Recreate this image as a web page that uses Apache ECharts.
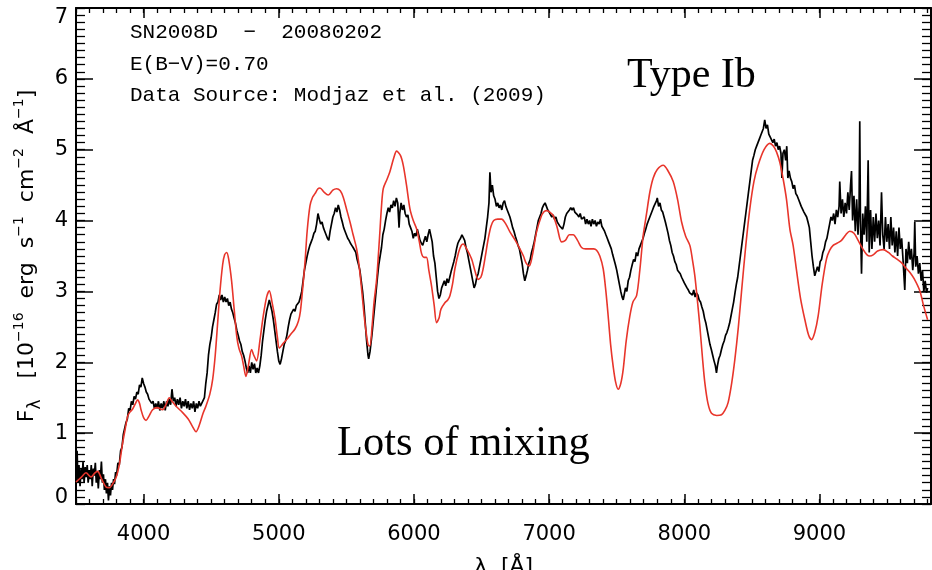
<!DOCTYPE html>
<html><head><meta charset="utf-8">
<script src="https://cdn.jsdelivr.net/npm/echarts@6/dist/echarts.min.js"></script>
<style>html,body{margin:0;padding:0;background:#fff}#c{width:932px;height:570px}</style>
</head><body><div id="c"></div>
<script>
// Observed spectrum SN2008D (wavelength Å, flux 1e-16)
const observed = [
[3500,0.45],[3508,0.75],[3515,0.3],[3522,0.55],[3530,0.25],[3538,0.5],[3545,0.35],[3552,0.6],[3560,0.3],[3568,0.52],[3575,0.38],[3583,0.55],[3590,0.3],[3598,0.48],[3605,0.35],[3613,0.55],[3620,0.25],[3628,0.5],[3635,0.4],[3643,0.58],[3650,0.3],[3658,0.45],[3665,0.22],[3673,0.48],[3680,0.35],[3688,0.6],[3695,0.3],[3703,0.42],[3710,0.2],[3718,0.35],[3725,0.15],[3733,0.3],[3740,0.05],[3748,0.25],[3755,0.12],[3763,0.3],[3770,0.2],[3778,0.35],[3785,0.28],[3793,0.45],[3800,0.4],[3810,0.58],[3820,0.55],[3830,0.75],[3840,0.8],[3850,0.98],[3860,1.0],[3870,1.15],[3880,1.2],[3890,1.35],[3900,1.32],[3910,1.45],[3920,1.4],[3930,1.52],[3940,1.48],[3950,1.58],[3960,1.55],[3970,1.68],[3980,1.65],[3990,1.78],[4000,1.7],[4010,1.65],[4020,1.58],[4030,1.55],[4040,1.48],[4050,1.5],[4060,1.42],[4070,1.45],[4080,1.35],[4090,1.42],[4100,1.35],[4110,1.45],[4120,1.32],[4130,1.42],[4140,1.35],[4150,1.45],[4160,1.32],[4170,1.45],[4180,1.38],[4190,1.48],[4200,1.4],[4210,1.62],[4220,1.45],[4230,1.5],[4240,1.38],[4250,1.48],[4260,1.4],[4270,1.5],[4280,1.35],[4290,1.45],[4300,1.38],[4310,1.48],[4320,1.35],[4330,1.45],[4340,1.33],[4350,1.42],[4360,1.35],[4370,1.45],[4380,1.3],[4390,1.42],[4400,1.35],[4410,1.45],[4420,1.38],[4430,1.42],[4440,1.4],[4450,1.5],[4460,1.7],[4470,1.85],[4480,2.1],[4490,2.25],[4500,2.35],[4510,2.5],[4520,2.6],[4530,2.7],[4540,2.82],[4550,2.85],[4560,2.95],[4570,2.88],[4580,2.95],[4590,2.85],[4600,2.92],[4610,2.85],[4620,2.9],[4630,2.8],[4640,2.85],[4650,2.75],[4660,2.7],[4670,2.62],[4680,2.55],[4690,2.45],[4700,2.38],[4710,2.3],[4720,2.25],[4730,2.15],[4740,2.1],[4750,2.02],[4760,1.92],[4770,1.85],[4780,1.95],[4790,1.85],[4800,2.0],[4810,1.9],[4820,1.98],[4830,1.85],[4840,1.92],[4850,1.85],[4860,1.95],[4870,2.1],[4880,2.3],[4890,2.45],[4900,2.6],[4910,2.72],[4920,2.8],[4930,2.88],[4940,2.8],[4950,2.72],[4960,2.6],[4970,2.45],[4980,2.3],[4990,2.15],[5000,2.02],[5010,1.97],[5020,2.05],[5030,2.15],[5040,2.25],[5050,2.3],[5060,2.38],[5070,2.5],[5080,2.6],[5090,2.68],[5100,2.7],[5110,2.75],[5120,2.72],[5130,2.8],[5140,2.78],[5150,2.85],[5160,2.92],[5170,3.0],[5180,3.15],[5190,3.3],[5200,3.4],[5210,3.5],[5220,3.58],[5230,3.65],[5240,3.7],[5250,3.75],[5260,3.82],[5270,3.85],[5280,3.95],[5290,4.1],[5300,4.02],[5310,3.95],[5320,3.98],[5330,3.9],[5340,3.85],[5350,3.8],[5360,3.75],[5370,3.72],[5380,3.85],[5390,3.95],[5400,4.05],[5410,4.1],[5420,4.18],[5430,4.12],[5440,4.22],[5450,4.15],[5460,4.05],[5470,3.98],[5480,3.9],[5490,3.85],[5500,3.8],[5510,3.75],[5520,3.72],[5530,3.68],[5540,3.65],[5550,3.62],[5560,3.6],[5570,3.55],[5580,3.45],[5590,3.38],[5600,3.3],[5610,3.15],[5620,3.0],[5630,2.8],[5640,2.55],[5650,2.3],[5660,2.1],[5665,2.05],[5675,2.15],[5690,2.4],[5700,2.6],[5710,2.8],[5720,3.0],[5730,3.2],[5740,3.38],[5750,3.5],[5760,3.62],[5770,3.8],[5780,3.88],[5790,4.0],[5800,4.1],[5810,4.18],[5820,4.12],[5830,4.22],[5840,4.18],[5850,4.28],[5860,4.2],[5870,4.32],[5880,4.25],[5890,3.9],[5895,4.1],[5905,4.25],[5915,4.15],[5925,4.22],[5935,4.1],[5945,4.05],[5955,4.08],[5965,3.95],[5975,3.9],[5985,3.85],[5995,3.75],[6005,3.82],[6015,3.78],[6025,3.88],[6035,3.8],[6045,3.72],[6055,3.68],[6065,3.65],[6075,3.72],[6085,3.78],[6095,3.7],[6105,3.8],[6115,3.88],[6125,3.9],[6135,3.7],[6145,3.5],[6155,3.4],[6165,3.2],[6175,3.0],[6185,2.9],[6195,2.95],[6205,3.05],[6215,3.1],[6225,3.15],[6235,3.08],[6245,3.18],[6255,3.12],[6265,3.2],[6275,3.28],[6285,3.35],[6295,3.42],[6305,3.5],[6315,3.6],[6325,3.68],[6335,3.72],[6345,3.75],[6355,3.8],[6365,3.78],[6375,3.72],[6385,3.62],[6395,3.55],[6405,3.45],[6415,3.35],[6425,3.25],[6435,3.15],[6445,3.05],[6455,3.1],[6465,3.2],[6475,3.25],[6485,3.35],[6495,3.45],[6505,3.55],[6515,3.65],[6525,3.75],[6535,3.9],[6545,4.05],[6555,4.25],[6562,4.68],[6570,4.4],[6580,4.5],[6590,4.35],[6600,4.3],[6610,4.2],[6620,4.25],[6630,4.18],[6640,4.22],[6650,4.15],[6660,4.25],[6670,4.28],[6680,4.2],[6690,4.15],[6700,4.1],[6710,4.05],[6720,3.98],[6730,3.9],[6740,3.85],[6750,3.78],[6760,3.72],[6770,3.65],[6780,3.6],[6790,3.5],[6800,3.4],[6810,3.25],[6820,3.15],[6830,3.22],[6840,3.3],[6850,3.4],[6860,3.45],[6870,3.55],[6880,3.62],[6890,3.7],[6900,3.8],[6910,3.9],[6920,4.0],[6930,4.05],[6940,4.1],[6950,4.18],[6960,4.22],[6970,4.25],[6980,4.2],[6990,4.15],[7000,4.12],[7010,4.1],[7020,4.05],[7030,4.08],[7040,4.02],[7050,4.05],[7060,3.98],[7070,3.95],[7080,3.92],[7090,3.9],[7100,3.88],[7110,3.95],[7120,4.05],[7130,4.1],[7140,4.12],[7150,4.15],[7160,4.18],[7170,4.15],[7180,4.18],[7190,4.12],[7200,4.1],[7210,4.08],[7220,4.05],[7230,4.1],[7240,4.02],[7250,4.0],[7260,4.05],[7270,3.95],[7280,4.02],[7290,3.95],[7300,4.0],[7310,3.92],[7320,4.02],[7330,3.95],[7340,4.0],[7350,3.92],[7360,3.98],[7370,3.95],[7380,4.02],[7390,3.92],[7400,3.9],[7410,3.85],[7420,3.8],[7430,3.75],[7440,3.7],[7450,3.68],[7460,3.6],[7470,3.52],[7480,3.45],[7490,3.38],[7500,3.3],[7510,3.2],[7520,3.1],[7530,3.0],[7540,2.92],[7548,2.88],[7555,2.95],[7565,3.05],[7575,3.0],[7585,3.15],[7595,3.2],[7605,3.3],[7615,3.38],[7625,3.45],[7635,3.42],[7645,3.55],[7655,3.5],[7665,3.6],[7675,3.62],[7685,3.7],[7695,3.75],[7705,3.82],[7715,3.88],[7725,3.95],[7735,4.0],[7745,4.05],[7755,4.1],[7765,4.15],[7775,4.2],[7785,4.18],[7795,4.28],[7800,4.32],[7810,4.2],[7820,4.25],[7830,4.15],[7840,4.12],[7850,4.05],[7860,3.98],[7870,3.9],[7880,3.82],[7890,3.72],[7900,3.65],[7910,3.55],[7920,3.5],[7930,3.42],[7940,3.38],[7950,3.3],[7960,3.28],[7970,3.25],[7980,3.2],[7990,3.18],[8000,3.12],[8010,3.1],[8020,3.05],[8030,3.02],[8040,2.98],[8050,3.0],[8060,2.95],[8070,3.02],[8080,2.92],[8090,2.98],[8100,2.95],[8110,2.88],[8120,2.85],[8130,2.78],[8140,2.72],[8150,2.62],[8160,2.55],[8170,2.45],[8180,2.35],[8190,2.25],[8200,2.18],[8210,2.1],[8220,2.02],[8230,1.95],[8238,1.85],[8245,1.95],[8255,2.05],[8265,2.1],[8275,2.18],[8285,2.25],[8295,2.3],[8305,2.38],[8315,2.42],[8325,2.48],[8335,2.55],[8345,2.65],[8355,2.75],[8365,2.85],[8375,2.98],[8385,3.1],[8395,3.2],[8405,3.35],[8415,3.5],[8425,3.65],[8435,3.8],[8445,3.95],[8455,4.1],[8465,4.25],[8475,4.4],[8485,4.55],[8495,4.7],[8505,4.85],[8515,4.92],[8525,5.0],[8535,5.05],[8545,5.1],[8555,5.15],[8565,5.2],[8575,5.25],[8585,5.3],[8595,5.42],[8605,5.3],[8615,5.35],[8625,5.22],[8635,5.18],[8645,5.2],[8655,5.1],[8665,5.15],[8675,5.05],[8685,5.1],[8695,5.0],[8705,5.05],[8715,4.95],[8722,4.6],[8730,4.95],[8740,5.0],[8750,4.85],[8758,5.05],[8766,4.6],[8775,4.7],[8785,4.6],[8795,4.55],[8805,4.45],[8815,4.5],[8825,4.38],[8835,4.35],[8845,4.3],[8855,4.28],[8865,4.2],[8875,4.18],[8885,4.12],[8895,4.1],[8905,4.05],[8915,3.98],[8925,3.9],[8935,3.7],[8945,3.5],[8955,3.35],[8965,3.22],[8975,3.2],[8985,3.35],[8995,3.28],[9005,3.42],[9015,3.45],[9025,3.55],[9035,3.6],[9045,3.7],[9055,3.75],[9065,3.85],[9075,3.95],[9085,4.05],[9095,4.0],[9105,4.1],[9115,3.95],[9125,4.15],[9135,4.05],[9145,4.2],[9150,4.55],[9160,4.1],[9170,4.3],[9180,4.05],[9190,4.25],[9200,4.1],[9210,4.4],[9220,4.15],[9230,4.5],[9237,4.7],[9245,4.0],[9255,4.35],[9265,3.85],[9275,4.3],[9285,3.8],[9293,4.2],[9298,5.4],[9303,4.0],[9311,3.25],[9320,4.1],[9330,3.8],[9340,4.2],[9350,3.7],[9360,4.85],[9368,3.55],[9378,4.15],[9388,3.6],[9398,4.05],[9408,3.7],[9418,4.1],[9428,3.75],[9438,4.0],[9448,3.65],[9459,4.4],[9468,3.8],[9478,3.6],[9488,4.05],[9498,3.7],[9508,3.95],[9518,3.6],[9528,4.05],[9538,3.65],[9548,3.9],[9558,3.55],[9568,3.85],[9578,3.5],[9588,3.9],[9598,3.6],[9608,3.75],[9618,3.45],[9631,3.02],[9640,3.6],[9650,3.4],[9660,3.7],[9670,3.45],[9680,3.6],[9690,3.3],[9700,3.55],[9705,3.98],[9712,3.35],[9722,3.5],[9732,3.25],[9742,3.4],[9752,3.15],[9762,3.3],[9772,3.0],[9782,3.15],[9792,2.98],[9800,3.05]
];
// Model spectrum (red)
const model = [
[3500,0.31],[3540,0.38],[3574,0.44],[3611,0.38],[3640,0.44],[3660,0.46],[3690,0.35],[3722,0.24],[3746,0.23],[3770,0.28],[3796,0.37],[3820,0.55],[3845,0.86],[3870,1.12],[3882,1.24],[3900,1.3],[3919,1.34],[3940,1.42],[3956,1.47],[3970,1.42],[3981,1.33],[4000,1.22],[4018,1.18],[4040,1.24],[4067,1.33],[4100,1.36],[4141,1.33],[4165,1.4],[4190,1.5],[4210,1.45],[4240,1.38],[4289,1.29],[4330,1.2],[4360,1.1],[4388,1.02],[4410,1.1],[4440,1.28],[4461,1.38],[4490,1.55],[4511,1.76],[4530,2.1],[4548,2.56],[4565,3.0],[4585,3.38],[4600,3.52],[4615,3.55],[4630,3.45],[4651,3.15],[4670,2.75],[4689,2.37],[4705,2.2],[4725,2.09],[4740,1.95],[4757,1.8],[4775,1.95],[4799,2.18],[4815,2.1],[4836,2.02],[4860,2.3],[4885,2.65],[4910,2.92],[4930,3.01],[4950,2.85],[4973,2.61],[4990,2.35],[5004,2.2],[5030,2.26],[5058,2.32],[5090,2.4],[5120,2.47],[5145,2.58],[5160,2.72],[5175,3.0],[5194,3.41],[5210,3.85],[5231,4.21],[5250,4.33],[5268,4.38],[5290,4.45],[5305,4.46],[5335,4.4],[5366,4.36],[5400,4.43],[5428,4.45],[5455,4.42],[5477,4.33],[5500,4.17],[5527,3.98],[5550,3.8],[5576,3.6],[5595,3.35],[5613,3.03],[5632,2.65],[5650,2.37],[5662,2.24],[5674,2.23],[5690,2.5],[5705,2.85],[5724,3.17],[5745,3.75],[5760,4.2],[5773,4.45],[5800,4.58],[5822,4.69],[5850,4.88],[5872,4.98],[5900,4.92],[5921,4.78],[5945,4.5],[5970,4.17],[5995,4.0],[6020,3.88],[6040,3.7],[6057,3.53],[6075,3.48],[6093,3.48],[6110,3.3],[6130,3.08],[6150,2.8],[6167,2.56],[6185,2.62],[6200,2.75],[6229,2.84],[6250,2.88],[6266,2.94],[6285,3.1],[6303,3.32],[6330,3.55],[6350,3.65],[6364,3.67],[6390,3.6],[6426,3.46],[6450,3.3],[6475,3.17],[6495,3.2],[6512,3.32],[6530,3.52],[6549,3.74],[6570,3.92],[6590,4.0],[6620,4.02],[6648,4.02],[6680,3.95],[6710,3.84],[6750,3.72],[6784,3.6],[6810,3.5],[6830,3.4],[6853,3.36],[6875,3.5],[6907,3.84],[6940,4.05],[6960,4.12],[6981,4.14],[7005,4.12],[7030,4.07],[7060,3.9],[7092,3.7],[7120,3.72],[7150,3.8],[7178,3.8],[7210,3.72],[7240,3.62],[7270,3.6],[7300,3.6],[7330,3.6],[7351,3.58],[7375,3.5],[7400,3.32],[7420,3.0],[7437,2.65],[7455,2.25],[7474,1.94],[7492,1.72],[7511,1.62],[7530,1.7],[7548,1.9],[7570,2.3],[7597,2.65],[7620,2.85],[7647,2.94],[7671,3.3],[7696,3.79],[7721,4.1],[7745,4.4],[7770,4.6],[7800,4.72],[7844,4.78],[7880,4.7],[7918,4.55],[7950,4.3],[7980,3.98],[8010,3.78],[8041,3.65],[8060,3.45],[8078,3.22],[8098,2.85],[8115,2.51],[8135,2.05],[8152,1.71],[8175,1.42],[8201,1.28],[8240,1.25],[8275,1.26],[8300,1.32],[8324,1.43],[8350,1.7],[8374,2.04],[8400,2.5],[8423,2.99],[8455,3.65],[8485,4.17],[8515,4.55],[8546,4.78],[8590,5.0],[8633,5.09],[8660,5.05],[8682,4.97],[8707,4.82],[8731,4.59],[8756,4.3],[8781,3.88],[8805,3.65],[8830,3.3],[8860,2.9],[8892,2.6],[8920,2.38],[8941,2.32],[8965,2.42],[8990,2.65],[9020,3.1],[9052,3.46],[9075,3.58],[9101,3.65],[9130,3.68],[9163,3.72],[9195,3.8],[9224,3.85],[9255,3.82],[9286,3.72],[9320,3.6],[9350,3.52],[9372,3.5],[9400,3.52],[9430,3.57],[9471,3.59],[9510,3.55],[9540,3.5],[9570,3.46],[9610,3.4],[9640,3.33],[9668,3.27],[9700,3.18],[9742,3.01],[9770,2.8],[9800,2.6]
];
const xTickLabels = [4000, 5000, 6000, 7000, 8000, 9000];
const yTickLabels = [0, 1, 2, 3, 4, 5, 6, 7];
const infoLines = ['SN2008D  \u2212  20080202', 'E(B\u2212V)=0.70', 'Data Source: Modjaz et al. (2009)'];
const typeLabel = 'Type Ib';
const mixLabel = 'Lots of mixing';

const X_MIN = 3500, X_MAX = 9825, Y_MIN = 0, Y_MAX = 7;
const axisColor = '#000';
const labFont = 'DejaVu Sans';

function xAxisDef(pos, major, labels) {
  const a = {
    type: 'value', position: pos, min: X_MIN, max: X_MAX,
    splitLine: {show: false},
    axisLine: {show: !major, onZero: false, lineStyle: {color: axisColor, width: 2}},
    axisTick: major
      ? {show: true, inside: true, length: 10, customValues: xTickLabels, lineStyle: {color: axisColor, width: 1.5}}
      : {show: true, inside: true, length: 5, lineStyle: {color: axisColor, width: 1.3}},
    axisLabel: {show: false}
  };
  if (!major) a.interval = 100;
  if (labels) {
    a.axisLabel = {show: true, customValues: xTickLabels, color: '#000', fontSize: 21, fontFamily: labFont, margin: 20,
      formatter: v => String(v)};
    a.name = '\u03bb  [\u00c5]';
    a.nameLocation = 'middle';
    a.nameGap = 52;
    a.nameTextStyle = {color: '#000', fontSize: 22, fontFamily: labFont};
  }
  return a;
}
function yAxisDef(pos, major, labels) {
  const a = {
    type: 'value', position: pos, min: Y_MIN, max: Y_MAX, interval: major ? 1 : 0.1,
    splitLine: {show: false},
    axisLine: {show: major, onZero: false, lineStyle: {color: axisColor, width: 2}},
    axisTick: {show: true, inside: true, length: major ? 17 : 9, lineStyle: {color: axisColor, width: major ? 1.5 : 1.3}},
    axisLabel: {show: false}
  };
  if (labels) {
    a.axisLabel = {show: true, color: '#000', fontSize: 21, fontFamily: labFont, margin: 8,
      formatter: v => (v === 0 ? '{lo|0}' : v === 7 ? '{hi|7}' : (yTickLabels.indexOf(v) >= 0 ? String(v) : '')),
      rich: {
        lo: {fontSize: 21, fontFamily: labFont, color: '#000', padding: [0, 0, 13, 0]},
        hi: {fontSize: 21, fontFamily: labFont, color: '#000', padding: [19, 0, 0, 0]}
      }};
    a.name = '{a|F}{sub|\u03bb}{a|   [10}{sup|\u221216}{a|  erg  s}{sup|\u22121}{a|  cm}{sup|\u22122}{a|  \u00c5}{sup|\u22121}{a|]}';
    a.nameLocation = 'middle';
    a.nameGap = 30;
    a.nameTextStyle = {
      color: '#000', fontFamily: labFont,
      rich: {
        a: {fontSize: 22, fontFamily: labFont, color: '#000', verticalAlign: 'bottom', padding: [0, 0, 5, 0]},
        sub: {fontSize: 17, fontFamily: labFont, color: '#000', verticalAlign: 'bottom', padding: [0, 0, 0, 0]},
        sup: {fontSize: 14, fontFamily: labFont, color: '#000', verticalAlign: 'bottom', padding: [0, 0, 17, 0]}
      }
    };
  }
  return a;
}

const chart = echarts.init(document.getElementById('c'), null, {renderer: 'canvas'});
chart.setOption({
  animation: false,
  backgroundColor: '#fff',
  grid: {left: 76, right: 1, top: 8, bottom: 66, containLabel: false, outerBoundsMode: 'none'},
  xAxis: [xAxisDef('bottom', false, true), xAxisDef('bottom', true, false), xAxisDef('top', false, false), xAxisDef('top', true, false)],
  yAxis: [yAxisDef('left', true, true), yAxisDef('left', false, false), yAxisDef('right', true, false), yAxisDef('right', false, false)],
  series: [
    {type: 'line', name: 'observed', data: observed, xAxisIndex: 0, yAxisIndex: 0, showSymbol: false, symbol: 'none',
      lineStyle: {color: '#000', width: 1.7}, z: 2},
    {type: 'line', name: 'model', data: model, xAxisIndex: 0, yAxisIndex: 0, showSymbol: false, symbol: 'none', smooth: 0.3,
      lineStyle: {color: '#e8352b', width: 1.6}, z: 3}
  ],
  graphic: [
    {type: 'text', left: 130, top: 22, style: {text: infoLines[0], font: '21px "Liberation Mono"', fill: '#000'}},
    {type: 'text', left: 130, top: 54, style: {text: infoLines[1], font: '21px "Liberation Mono"', fill: '#000'}},
    {type: 'text', left: 130, top: 85, style: {text: infoLines[2], font: '21px "Liberation Mono"', fill: '#000'}},
    {type: 'text', left: 627, top: 55, style: {text: typeLabel, font: '42px "Liberation Serif"', fill: '#000'}},
    {type: 'text', left: 337, top: 422, style: {text: mixLabel, font: '42.5px "Liberation Serif"', fill: '#000'}}
  ]
});
</script>
</body></html>
